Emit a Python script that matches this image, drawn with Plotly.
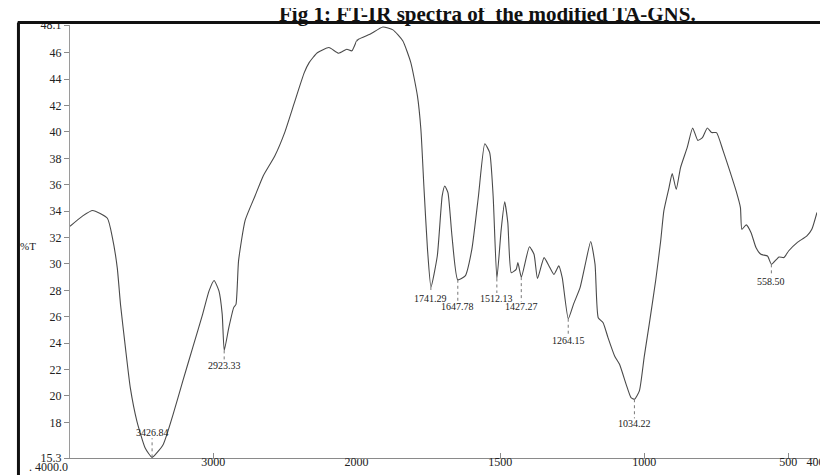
import plotly.graph_objects as go

# ---- data ----
wavenumber = [4000, 3911, 3842, 3739, 3704, 3670, 3647, 3613, 3579, 3533, 3476, 3427,
              3349, 3280, 3212, 3143, 3074, 3029, 2994, 2960, 2937, 2923, 2891, 2857,
              2841, 2823, 2777, 2708, 2651, 2570, 2501, 2433, 2364, 2330, 2273, 2192,
              2124, 2067, 2032, 1993, 1953, 1908, 1873, 1839, 1811, 1788, 1776, 1765,
              1753, 1741, 1719, 1702, 1693, 1682, 1668, 1648, 1622, 1599, 1576, 1554,
              1537, 1525, 1512, 1497, 1485, 1474, 1462, 1445, 1439, 1427, 1399, 1383,
              1371, 1348, 1331, 1314, 1297, 1285, 1264, 1246, 1223, 1205, 1186, 1171,
              1160, 1143, 1126, 1103, 1086, 1063, 1046, 1034, 1017, 1000, 983, 960,
              943, 932, 914, 903, 889, 874, 851, 832, 814, 798, 781, 766, 749, 726,
              703, 681, 666, 661, 646, 629, 612, 595, 572, 558, 532, 515, 498, 469,
              435, 418, 400]
transmittance = [32.85, 33.64, 34.05, 33.46, 32.0, 29.7, 26.9, 23.66, 20.63, 18.1, 16.08, 15.35,
                 16.33, 18.6, 21.14, 23.66, 26.18, 27.96, 28.75, 27.96, 26.18, 23.45, 25.17, 26.69,
                 26.94, 30.23, 33.3, 35.15, 36.67, 38.18, 39.95, 42.22, 44.49, 45.25, 46.0, 46.39,
                 45.96, 46.26, 46.14, 47.02, 47.4, 47.95, 47.73, 46.9, 45.25, 42.73, 40.2, 35.65,
                 31.1, 28.25, 30.6, 35.15, 35.9, 35.4, 32.12, 28.8, 29.09, 31.1, 35.15, 39.1,
                 38.43, 35.15, 28.9, 32.62, 34.7, 33.13, 29.34, 29.59, 30.1, 29.0, 31.3, 30.73,
                 28.9, 30.48, 29.85, 29.21, 29.85, 28.96, 25.85, 26.94, 28.2, 29.97, 31.7, 29.97,
                 25.93, 25.55, 24.42, 23.03, 22.4, 20.88, 19.87, 19.75, 20.38, 23.0, 25.4, 28.8,
                 31.74, 34.02, 35.78, 36.85, 35.65, 37.3, 38.81, 40.3, 39.36, 39.57, 40.3, 39.95,
                 39.95, 38.56, 37.05, 35.53, 34.27, 32.62, 32.96, 32.37, 31.24, 30.73, 30.6, 29.97,
                 30.53, 30.48, 31.0, 31.62, 32.12, 32.62, 33.9]

peak_wn = [3426.84, 2923.33, 1741.29, 1647.78, 1512.13, 1427.27, 1264.15, 1034.22, 558.50]
peak_text = ["3426.84", "2923.33", "1741.29", "1647.78", "1512.13", "1427.27", "1264.15", "1034.22", "558.50"]
peak_T = [15.35, 23.45, 28.25, 28.8, 28.9, 29.0, 25.85, 19.75, 29.97]
peak_label_T = [17.22, 22.32, 27.4, 26.74, 27.4, 26.74, 24.21, 17.9, 28.66]
peak_line_end = [16.8, 22.75, 27.8, 27.15, 27.8, 27.15, 24.6, 18.3, 29.05]

y_ticks = [15.3, 18, 20, 22, 24, 26, 28, 30, 32, 34, 36, 38, 40, 42, 44, 46, 48.1]
y_ticktext = ["15.3", "18", "20", "22", "24", "26", "28", "30", "32", "34", "36", "38",
              "40", "42", "44", "46", "48.1"]
x1_ticks = [3000, 2000]
x1_ticktext = ["3000", "2000"]
x2_ticks = [1500, 1000, 500, 400]
x2_ticktext = ["1500", "1000", "500", "400."]

FONT = "Liberation Serif, Times New Roman, serif"
LINE = "#4a4a4a"

fig = go.Figure()
for xa in ["x", "x2"]:
    fig.add_trace(go.Scatter(x=wavenumber, y=transmittance, mode="lines",
                             line=dict(color=LINE, width=1.1, shape="spline", smoothing=0.5),
                             xaxis=xa, yaxis="y", showlegend=False, hoverinfo="x+y"))

split = (353 - 62) / 759.0
axis_common = dict(showgrid=False, zeroline=False, showline=True, linecolor="#8a8a8a",
                   linewidth=1, ticks="inside", ticklen=5, tickcolor="#8a8a8a",
                   ticklabelstandoff=-7,
                   tickfont=dict(family=FONT, size=12, color="#222"))
fig.update_layout(
    width=828, height=475,
    margin=dict(l=62, r=7, t=17, b=25),
    paper_bgcolor="white", plot_bgcolor="white",
    xaxis=dict(domain=[0, split], range=[4000, 2000], tickvals=x1_ticks, ticktext=x1_ticktext,
               anchor="y", **axis_common),
    xaxis2=dict(domain=[split, 1], range=[2000, 400], tickvals=x2_ticks, ticktext=x2_ticktext,
                anchor="y", **axis_common),
    yaxis=dict(range=[15.3, 48.1], tickvals=y_ticks, ticktext=y_ticktext,
               showgrid=False, zeroline=False, showline=True, linecolor="#9a9a9a", linewidth=1,
               ticks="outside", ticklen=5, tickcolor="#8a8a8a",
               tickfont=dict(family=FONT, size=12, color="#222")),
    showlegend=False,
)

# peak labels with dotted drop lines
for wn, txt, t, lt, le in zip(peak_wn, peak_text, peak_T, peak_label_T, peak_line_end):
    xr = "x" if wn > 2000 else "x2"
    fig.add_shape(type="line", xref=xr, yref="y", x0=wn, x1=wn, y0=t, y1=le,
                  line=dict(color="#777", width=1, dash="dot"))
    fig.add_annotation(xref=xr, yref="y", x=wn, y=lt, text=txt, showarrow=False,
                       font=dict(family=FONT, size=10, color="#222"))

# left-most x label
fig.add_annotation(xref="x", yref="paper", x=4000, y=0, yshift=0, xanchor="right", yanchor="top",
                   text=". 4000.0", showarrow=False,
                   font=dict(family=FONT, size=12, color="#222"))
# axis labels
fig.add_annotation(xref="paper", yref="paper", x=-0.07, y=0.49, text="%T", showarrow=False,
                   font=dict(family=FONT, size=11, color="#222"))
fig.add_annotation(xref="paper", yref="paper", x=0.469, y=0, yshift=-14, yanchor="top",
                   text="cm<sup>-1</sup>", showarrow=False,
                   font=dict(family=FONT, size=11, color="#222"))
# title
fig.add_annotation(xref="paper", yref="paper", x=0.559, y=1, yshift=-3, yanchor="bottom",
                   text="<b>Fig 1: FT-IR spectra of  the modified TA-GNS.</b>", showarrow=False,
                   font=dict(family=FONT, size=21, color="#111"))

# thick frame (top and left borders)
fig.add_shape(type="line", xref="paper", yref="paper", x0=-0.07, x1=1.02, y0=1.006, y1=1.006,
              line=dict(color="#111", width=3))
fig.add_shape(type="line", xref="paper", yref="paper", x0=-0.069, x1=-0.069, y0=1.006, y1=-0.08,
              line=dict(color="#111", width=3))

fig.write_html("out.html")
